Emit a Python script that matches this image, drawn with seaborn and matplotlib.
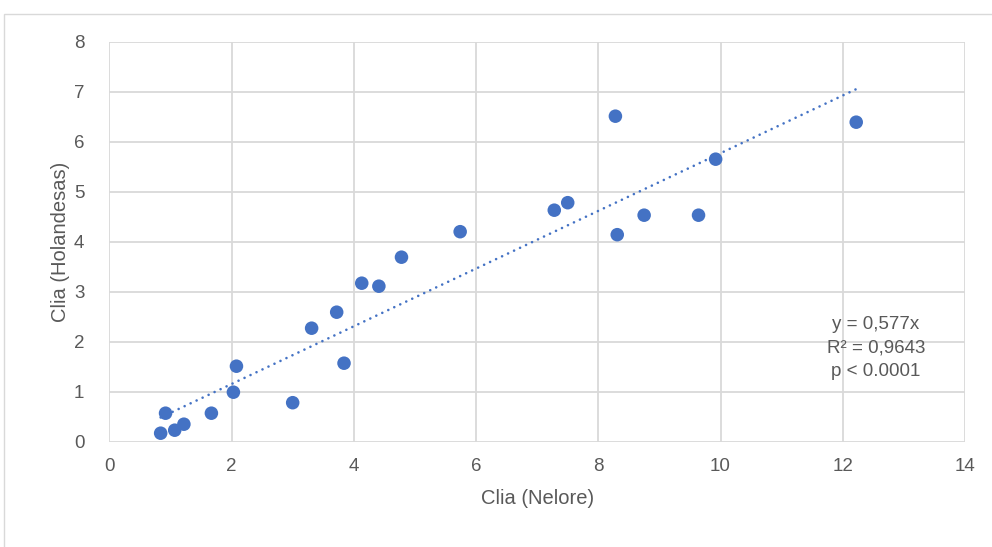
import numpy as np
import pandas as pd
import matplotlib.pyplot as plt
import seaborn as sns
from matplotlib.patches import Rectangle

# values
nelore = [0.84, 0.92, 1.07, 1.22, 1.67, 2.03, 2.08, 3.00, 3.31, 3.72, 3.84, 4.13,
          4.41, 4.78, 5.74, 7.28, 7.50, 8.28, 8.31, 8.75, 9.64, 9.92, 12.22]
holandesas = [0.17, 0.57, 0.23, 0.35, 0.57, 0.99, 1.51, 0.78, 2.27, 2.59, 1.57, 3.17,
              3.11, 3.69, 4.20, 4.63, 4.78, 6.51, 4.14, 4.53, 4.53, 5.65, 6.39]
slope = 0.577
x_ticks = [0, 2, 4, 6, 8, 10, 12, 14]
y_ticks = [0, 1, 2, 3, 4, 5, 6, 7, 8]
stats_text = "y = 0,577x\nR² = 0,9643\np < 0.0001"

df = pd.DataFrame({"Nelore": nelore, "Holandesas": holandesas})
trend = pd.DataFrame({"x": [min(nelore), max(nelore)]})
trend["y"] = slope * trend["x"]

sns.set_style("white")
plt.rcParams['font.family'] = ['Liberation Sans', 'DejaVu Sans']

blue = "#4472C4"
grey_txt = "#595959"
grid_c = "#d9d9d9"

fig = plt.figure(figsize=(9.92, 5.47), dpi=100)
ax = fig.add_axes([0.1102, 0.1925, 0.8626, 0.7313])

# chart border (Excel chart area)
fig.patches.append(Rectangle((4 / 992, -0.1), 1.2, 1 - 14 / 547 + 0.1,
                             transform=fig.transFigure, fill=False,
                             edgecolor=grid_c, linewidth=1.0))

sns.lineplot(data=trend, x="x", y="y", ax=ax, color=blue,
             linestyle=(0, (0.01, 2.5)), linewidth=1.9,
             dash_capstyle="round", solid_capstyle="round", zorder=2)
sns.scatterplot(data=df, x="Nelore", y="Holandesas", ax=ax, color=blue, s=95,
                edgecolor="none", zorder=3, clip_on=False)

ax.set_xlim(0, 14)
ax.set_ylim(0, 8)
ax.set_xticks(x_ticks)
ax.set_yticks(y_ticks)
ax.grid(True, color=grid_c, linewidth=1.3)
ax.set_axisbelow(True)
for s in ax.spines.values():
    s.set_visible(False)
ax.tick_params(axis="both", length=0, labelsize=13.5, labelcolor=grey_txt)
ax.tick_params(axis="x", pad=12)
ax.tick_params(axis="y", pad=18)

ax.set_xlabel("Clia (Nelore)", fontsize=14.5, color=grey_txt, labelpad=10)
ax.set_ylabel("Clia (Holandesas)", fontsize=14.5, color=grey_txt, labelpad=3)

ax.text(876 / 992, 1 - 348 / 547, stats_text, transform=fig.transFigure,
        ha="center", va="center", fontsize=13.5, color=grey_txt, linespacing=1.5)

fig.savefig("out.png", dpi=100)
plt.close(fig)
